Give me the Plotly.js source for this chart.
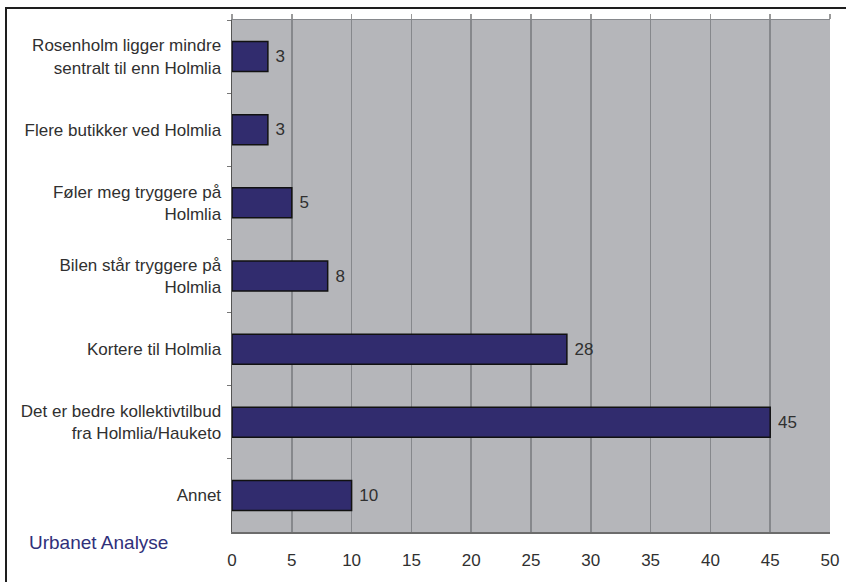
<!DOCTYPE html>
<html>
<head>
<meta charset="utf-8">
<script src="https://cdn.plot.ly/plotly-3.0.1.min.js"></script>
<style>
  html, body { margin: 0; padding: 0; background: #fff; }
  #wrap { position: relative; width: 846px; height: 582px; overflow: hidden; }
  #chart { position: absolute; left: 0; top: 0; width: 846px; height: 582px; }
  #frame {
    position: absolute; left: 5px; top: 7px; width: 900px; height: 700px;
    border-top: 2px solid #1e1e1e; border-left: 2px solid #1e1e1e;
    pointer-events: none;
  }
</style>
</head>
<body>
<div id="wrap">
  <div id="chart"></div>
  <div id="frame"></div>
</div>
<script>
// Reasons given (number of answers), listed top to bottom
const categories = [
  "Rosenholm ligger mindre<br>sentralt til enn Holmlia",
  "Flere butikker ved Holmlia",
  "Føler meg tryggere på<br>Holmlia",
  "Bilen står tryggere på<br>Holmlia",
  "Kortere til Holmlia",
  "Det er bedre kollektivtilbud<br>fra Holmlia/Hauketo",
  "Annet"
];
const answers = [3, 3, 5, 8, 28, 45, 10];
const xTicks = [0, 5, 10, 15, 20, 25, 30, 35, 40, 45, 50];
const sourceText = "Urbanet Analyse";

const labelFont = { family: "Liberation Sans, Arial, sans-serif", size: 17, color: "#303030" };

const bars = {
  type: "bar",
  orientation: "h",
  x: answers,
  y: categories,
  marker: { color: "#312c6e", line: { color: "#111111", width: 1.5 } },
  texttemplate: "\u00a0%{x}",
  textposition: "outside",
  textfont: labelFont,
  cliponaxis: false,
  hoverinfo: "x+y"
};

// same data on the top axis so its tick marks are drawn
const topAxisTrace = {
  type: "scatter",
  mode: "none",
  x: answers,
  y: categories,
  xaxis: "x2",
  hoverinfo: "skip",
  showlegend: false
};

const layout = {
  width: 846,
  height: 582,
  margin: { l: 232, r: 16, t: 20, b: 50 },
  paper_bgcolor: "#ffffff",
  plot_bgcolor: "#b5b6ba",
  showlegend: false,
  bargap: 0.59,
  font: labelFont,
  xaxis: {
    range: [0, 50],
    tickvals: xTicks,
    ticktext: xTicks.map(String),
    showgrid: true,
    gridcolor: "#86888c",
    gridwidth: 1.5,
    zeroline: false,
    showline: true,
    linecolor: "#6c6c6c",
    linewidth: 1.5,
    ticks: "",
    ticklabelstandoff: 12,
    tickfont: labelFont,
    fixedrange: true
  },
  xaxis2: {
    overlaying: "x",
    side: "top",
    anchor: "y",
    range: [0, 50],
    tickvals: xTicks,
    showticklabels: false,
    showgrid: false,
    zeroline: false,
    showline: true,
    linecolor: "#86888c",
    linewidth: 1.5,
    ticks: "outside",
    ticklen: 5,
    tickwidth: 1.5,
    tickcolor: "#9a9a9a",
    fixedrange: true
  },
  yaxis: {
    type: "category",
    autorange: "reversed",
    tickson: "boundaries",
    ticks: "outside",
    ticklen: 4,
    tickwidth: 1,
    tickcolor: "#777777",
    showgrid: false,
    zeroline: false,
    showline: true,
    linecolor: "#555555",
    linewidth: 1.5,
    ticklabelstandoff: 6,
    tickfont: labelFont,
    fixedrange: true
  },
  annotations: [{
    text: sourceText,
    xref: "paper", yref: "paper",
    x: -0.343, y: -0.02,
    xanchor: "left", yanchor: "middle",
    showarrow: false,
    font: { family: "Liberation Sans, Arial, sans-serif", size: 19, color: "#30307a" }
  }]
};

Plotly.newPlot("chart", [bars, topAxisTrace], layout, { displayModeBar: false, staticPlot: true });
</script>
</body>
</html>
